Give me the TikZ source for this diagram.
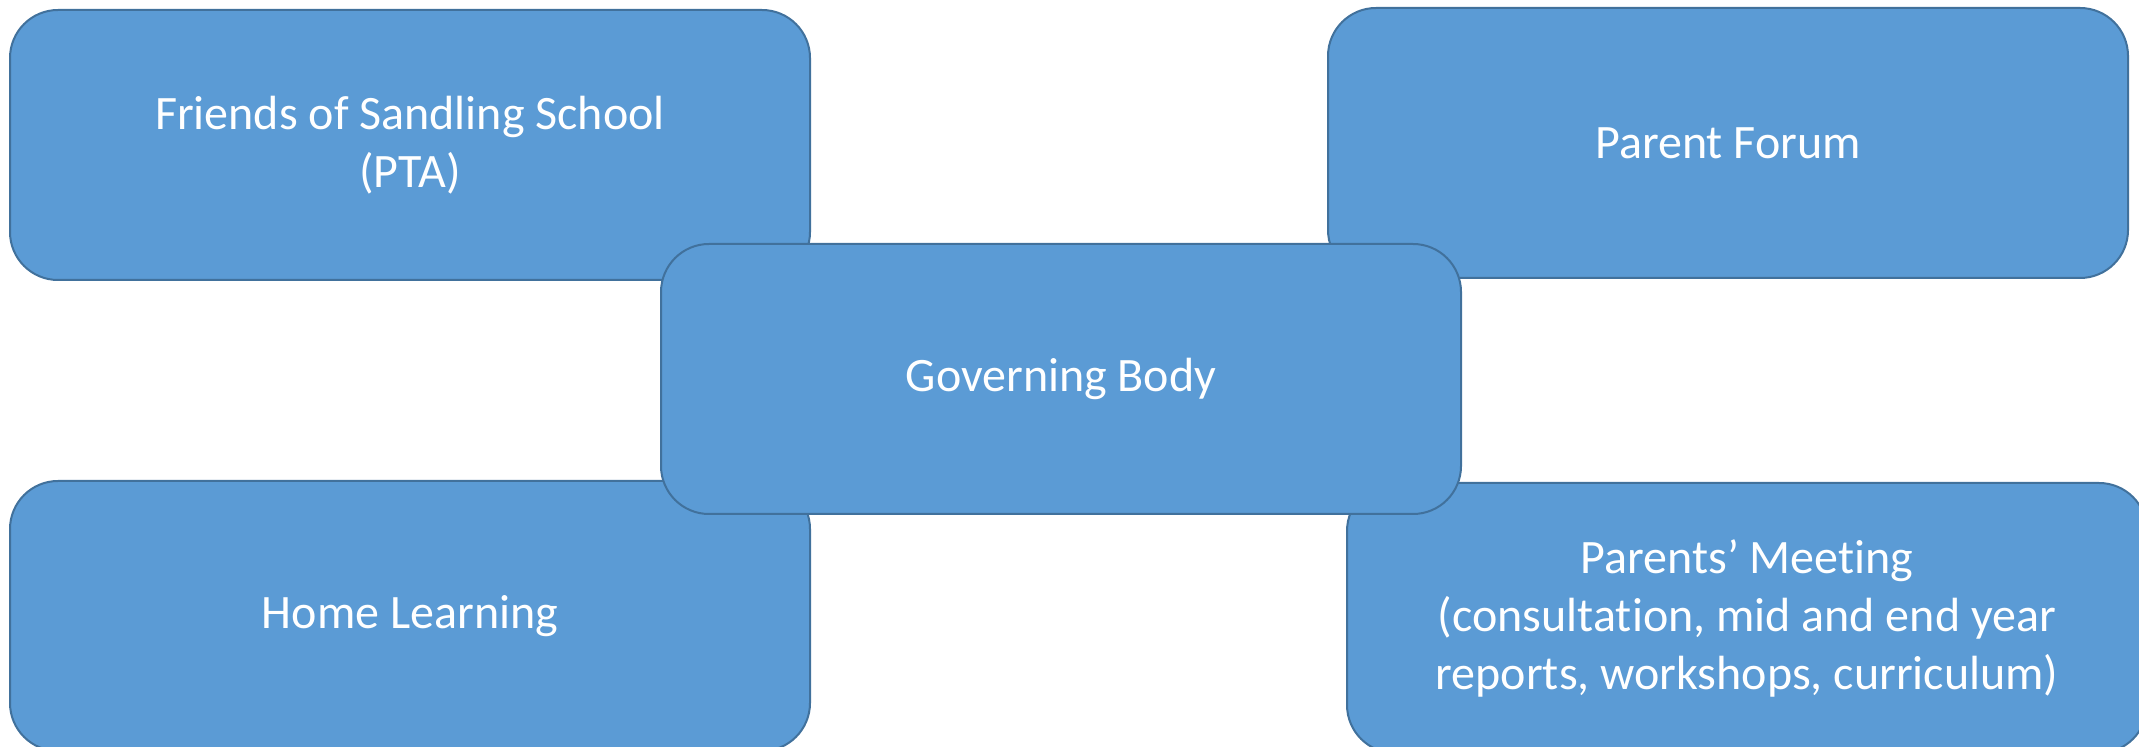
\documentclass[tikz,border=0pt]{standalone}
\usepackage{fontspec}
\setmainfont{Carlito}[Ligatures=NoCommon]
\usepackage{tikz}
\definecolor{boxfill}{HTML}{5B9BD5}
\definecolor{boxline}{HTML}{41719C}

\begin{document}
\begin{tikzpicture}[x=0.5pt,y=-0.5pt]
\tikzstyle{block}=[draw=boxline,fill=boxfill,line width=1pt,rounded corners=24pt,
	minimum width=400pt,minimum height=135pt,align=center,text=white,
	font=\fontsize{24}{29}\selectfont,inner sep=0pt];
\useasboundingbox (0,0) rectangle (2139,747);
\node[block] (pta) at (410,145) {Friends of Sandling School\\(PTA)};
\node[block] (forum) at (1728,143) {Parent Forum};
\node[block] (home) at (410,616) {Home Learning};
\node[block] (meeting) at (1747,618)
	{Parents’ Meeting\\(consultation, mid and end year\\reports, workshops, curriculum)};
\node[block] (gov) at (1061,379) {Governing Body};
\end{tikzpicture}
\end{document}
